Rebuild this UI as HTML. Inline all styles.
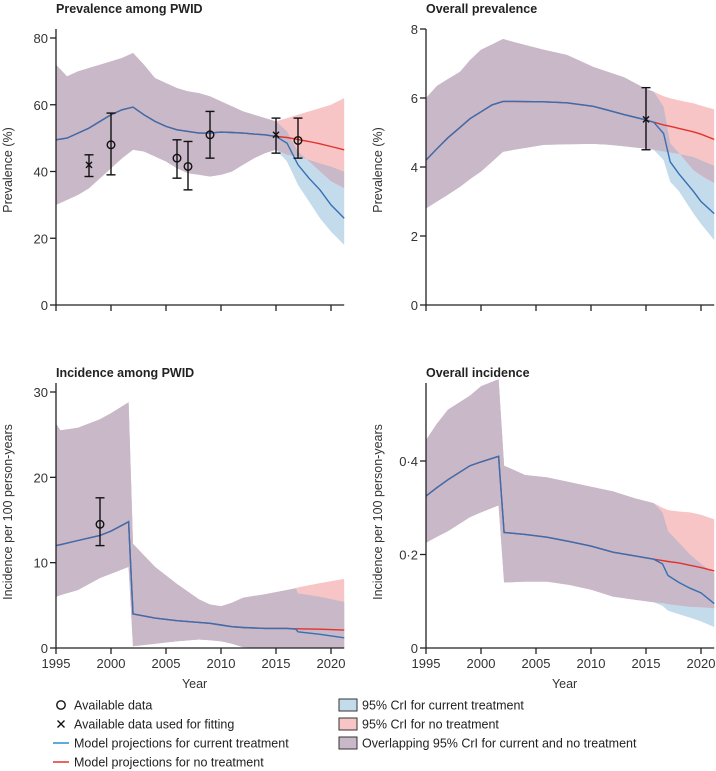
<!DOCTYPE html>
<html><head><meta charset="utf-8"><style>
html,body{margin:0;padding:0;background:#fff;}
svg{display:block;font-family:"Liberation Sans",sans-serif;}
.t{font-weight:bold;font-size:12.5px;fill:#222}
.tk{font-size:13px;fill:#333}
.at{font-size:12.5px;fill:#333}
.lg{font-size:12.5px;fill:#222}
</style></head><body>
<svg id="c" width="716" height="771" viewBox="0 0 716 771"></svg>
<script>
// Panel A: prevalence among PWID
const aYears=[1995,1996,1997,1998,1999,2000,2001,2002,2003,2004,2005,2006,2007,2008,2009,2010,2011,2012,2013,2014,2015,2016,2017,2018,2019,2020,2021.2];
const aMeanCur=[49.5,50,51.5,53,55,57,58.5,59.3,57,55,53.5,52.5,52,51.5,51.5,51.8,51.7,51.5,51.2,51,50.5,48.5,42,38,34.5,30,26];
const aMeanNo=[49.5,50,51.5,53,55,57,58.5,59.3,57,55,53.5,52.5,52,51.5,51.5,51.8,51.7,51.5,51.2,51,50.5,50.2,49.6,49,48.3,47.5,46.5];
const aUpCur=[72,68.5,70,71,72,73,74,75.5,72,68,66.5,65,64,63.5,62.5,61,59.5,58,57,56,55,52,46,43,40,37,35];
const aUpNo=[72,68.5,70,71,72,73,74,75.5,72,68,66.5,65,64,63.5,62.5,61,59.5,58,57,56,55,56,57,58,59,60,62];
const aLoCur=[30,31.5,33,35,38,41,44,46.5,46,44.5,43,41,39.5,39,38.5,39,40,42,44,45.5,46.5,43,36,31,26,22,18];
const aLoNo=[30,31.5,33,35,38,41,44,46.5,46,44.5,43,41,39.5,39,38.5,39,40,42,44,45.5,46.5,45,44.5,43.5,42.5,41.5,40];
const aPtYears=[1998,2000,2006,2007,2009,2015,2017];
const aPtVal=[42,48,44,41.5,51,51,49.3];
const aPtLo=[38.5,39,38,34.5,44,45.5,44];
const aPtHi=[45,57.5,49.5,49,58,56,56];
const aPtFit=[1,0,0,0,0,1,0];
const aTicks=[0,20,40,60,80];
// Panel B: overall prevalence
const bYears=[1995,1996,1997,1998.1,1999,2000,2001,2002,2003,2005.7,2007.8,2010.2,2011.5,2013,2014.8,2015.7,2016.6,2017.2,2018,2019.3,2020,2021.2];
const bMeanCur=[4.2,4.53,4.85,5.15,5.4,5.6,5.8,5.9,5.9,5.89,5.86,5.76,5.65,5.52,5.38,5.3,4.97,4.15,3.8,3.3,3.0,2.65];
const bMeanNo=[4.2,4.53,4.85,5.15,5.4,5.6,5.8,5.9,5.9,5.89,5.86,5.76,5.65,5.52,5.38,5.3,5.22,5.18,5.12,5.02,4.95,4.8];
const bUpCur=[6.0,6.35,6.55,6.76,7.1,7.4,7.55,7.71,7.62,7.4,7.25,6.9,6.76,6.6,6.3,6.18,5.75,4.69,4.4,3.91,3.75,3.53];
const bUpNo=[6.0,6.35,6.55,6.76,7.1,7.4,7.55,7.71,7.62,7.4,7.25,6.9,6.76,6.6,6.3,6.18,6.05,5.99,5.93,5.85,5.78,5.67];
const bLoCur=[2.8,3.0,3.2,3.43,3.65,3.87,4.15,4.44,4.5,4.64,4.66,4.67,4.65,4.6,4.54,4.5,4.2,3.57,3.3,2.66,2.35,1.88];
const bLoNo=[2.8,3.0,3.2,3.43,3.65,3.87,4.15,4.44,4.5,4.64,4.66,4.67,4.65,4.6,4.54,4.5,4.45,4.42,4.38,4.3,4.2,4.04];
const bPtYears=[2015];
const bPtVal=[5.38];
const bPtLo=[4.5];
const bPtHi=[6.3];
const bPtFit=[1];
const bTicks=[0,2,4,6,8];
// Panel C: incidence among PWID
const cYears=[1995,1995.4,1997,1999,2000,2001.6,2002,2004,2006,2008,2009,2010,2011,2012,2014,2016,2016.8,2017,2019,2021.2];
const cMeanCur=[12,12.1,12.6,13.2,13.7,14.8,4.0,3.5,3.2,3.0,2.9,2.7,2.5,2.4,2.3,2.3,2.2,1.9,1.6,1.2];
const cMeanNo=[12,12.1,12.6,13.2,13.7,14.8,4.0,3.5,3.2,3.0,2.9,2.7,2.5,2.4,2.3,2.3,2.25,2.25,2.2,2.1];
const cUpCur=[26.3,25.5,25.8,26.8,27.5,28.8,12.2,9.5,7.5,5.7,5.1,4.9,5.3,5.9,6.3,6.8,7.0,6.4,6.0,5.4];
const cUpNo=[26.3,25.5,25.8,26.8,27.5,28.8,12.2,9.5,7.5,5.7,5.1,4.9,5.3,5.9,6.3,6.8,7.0,7.1,7.6,8.1];
const cLoCur=[6.0,6.2,6.8,8.2,8.7,9.5,0.2,0.5,0.8,1.0,0.9,0.8,0.5,0.1,0,0,0,0,0,0];
const cLoNo=[6.0,6.2,6.8,8.2,8.7,9.5,0.2,0.5,0.8,1.0,0.9,0.8,0.5,0.1,0,0,0,0,0,0];
const cPtYears=[1999];
const cPtVal=[14.5];
const cPtLo=[12];
const cPtHi=[17.6];
const cPtFit=[0];
const cTicks=[0,10,20,30];
// Panel D: overall incidence
const dYears=[1995,1996,1997,1998,1999,2000,2001.6,2002.1,2004,2006,2008,2010,2012,2014,2015.7,2016.5,2017,2018,2019,2020,2021.2];
const dMeanCur=[.325,.343,.36,.375,.39,.398,.41,.247,.243,.237,.228,.218,.205,.197,.19,.18,.155,.14,.128,.118,.095];
const dMeanNo=[.325,.343,.36,.375,.39,.398,.41,.247,.243,.237,.228,.218,.205,.197,.19,.187,.185,.182,.177,.172,.165];
const dUpCur=[.445,.48,.51,.525,.54,.56,.575,.39,.37,.365,.355,.345,.335,.32,.31,.29,.25,.225,.2,.18,.16];
const dUpNo=[.445,.48,.51,.525,.54,.56,.575,.39,.37,.365,.355,.345,.335,.32,.31,.30,.295,.292,.29,.285,.275];
const dLoCur=[.225,.238,.25,.265,.28,.29,.305,.14,.142,.142,.135,.125,.11,.103,.098,.09,.08,.072,.065,.057,.045];
const dLoNo=[.225,.238,.25,.265,.28,.29,.305,.14,.142,.142,.135,.125,.11,.103,.098,.096,.094,.091,.088,.087,.085];
const dPtYears=[];
const dPtVal=[];
const dPtLo=[];
const dPtHi=[];
const dPtFit=[];
const dTicks=[0,0.2,0.4];
const dTickLabels=["0","0·2","0·4"];
const xTicks=[1995,2000,2005,2010,2015,2020];

const NS="http://www.w3.org/2000/svg";
const svg=document.getElementById('c');
function mk(tag,attrs,parent){const e=document.createElementNS(NS,tag);for(const k in attrs)e.setAttribute(k,attrs[k]);(parent||svg).appendChild(e);return e;}
function pathFrom(xs,ys,sx,sy){return xs.map((x,i)=>(i?'L':'M')+sx(x).toFixed(1)+','+sy(ys[i]).toFixed(1)).join('');}
function bandPath(xs,lo,hi,sx,sy){let d=pathFrom(xs,hi,sx,sy);for(let i=xs.length-1;i>=0;i--)d+='L'+sx(xs[i]).toFixed(1)+','+sy(lo[i]).toFixed(1);return d+'Z';}

function panel(o){
  const g=mk('g',{});
  
  
  const sx=v=>o.x0+(v-1995)*11;
  const sy=v=>o.yb-(v-0)/(o.ymax)*(o.yb-o.yt);
  const t=mk('text',{x:o.x0,y:o.ty,class:'t'},g);t.textContent=o.title;
  
  const ov=o.years.map((_,i)=>Math.min(o.upCur[i],o.upNo[i]));
  const ol=o.years.map((_,i)=>Math.max(o.loCur[i],o.loNo[i]));
  let e=mk('path',{d:bandPath(o.years,o.loNo,o.upNo,sx,sy),fill:'#f7c5c5'},g);
  
  e=mk('path',{d:bandPath(o.years,o.loCur,o.upCur,sx,sy),fill:'#c4dbeb'},g);
  
  e=mk('path',{d:bandPath(o.years,ol,ov,sx,sy),fill:'#c9b8c8'},g);
  
  e=mk('path',{d:pathFrom(o.years,o.meanNo,sx,sy),fill:'none',stroke:'#e3322c','stroke-width':1.4},g);
  
  e=mk('path',{d:pathFrom(o.years,o.meanCur,sx,sy),fill:'none',stroke:'#3470b3','stroke-width':1.4},g);
  
  // data points
  o.ptY.forEach((yr,i)=>{
    const x=sx(yr);
    const p=mk('g',{stroke:'#111','stroke-width':1.4,fill:'none'},g);
    
    mk('line',{x1:x,x2:x,y1:sy(o.ptLo[i]),y2:sy(o.ptHi[i])},p);
    mk('line',{x1:x-4.5,x2:x+4.5,y1:sy(o.ptLo[i]),y2:sy(o.ptLo[i])},p);
    mk('line',{x1:x-4.5,x2:x+4.5,y1:sy(o.ptHi[i]),y2:sy(o.ptHi[i])},p);
    const y=sy(o.ptV[i]);
    if(o.ptF[i]){mk('path',{d:`M${x-3},${y-3}L${x+3},${y+3}M${x-3},${y+3}L${x+3},${y-3}`},p);}
    else{mk('circle',{cx:x,cy:y,r:3.8,fill:'none'},p);}
  });
  // axes
  const ax=mk('g',{stroke:'#222','stroke-width':1.3},g);
  
  mk('line',{x1:o.x0,x2:o.x0,y1:o.yt,y2:o.yb},ax);
  mk('line',{x1:o.x0,x2:sx(2021.2),y1:o.yb,y2:o.yb},ax);
  o.yticks.forEach((v,i)=>{
    mk('line',{x1:o.x0-6,x2:o.x0,y1:sy(v),y2:sy(v)},ax);
    const tx=mk('text',{x:o.x0-8,y:sy(v)+5,class:'tk','text-anchor':'end'},g);
    tx.textContent=o.ylabels?o.ylabels[i]:String(v);
    
  });
  xTicks.forEach(v=>{
    mk('line',{x1:sx(v),x2:sx(v),y1:o.yb,y2:o.yb+6},ax);
    if(o.xlabels){const tx=mk('text',{x:sx(v),y:o.yb+20,class:'tk','text-anchor':'middle'},g);tx.textContent=v;
      }
  });
  if(o.xlabels){const tx=mk('text',{x:sx(2007.6),y:o.yb+40,class:'at','text-anchor':'middle'},g);tx.textContent='Year';
    }
  const yt=mk('text',{x:0,y:0,class:'at','text-anchor':'middle',transform:`translate(${o.ylx},${o.ylc}) rotate(-90)`},g);
  yt.textContent=o.ytitle;
}

panel({name:'panel-prevalence-pwid',title:'Prevalence among PWID',x0:56,yt:29,yb:305,ymax:80/(267/276),ty:13,
 years:aYears,meanCur:aMeanCur,meanNo:aMeanNo,upCur:aUpCur,upNo:aUpNo,loCur:aLoCur,loNo:aLoNo,
 ptY:aPtYears,ptV:aPtVal,ptLo:aPtLo,ptHi:aPtHi,ptF:aPtFit,yticks:aTicks,xlabels:false,ytitle:'Prevalence (%)',ylx:12,ylc:170});
panel({name:'panel-overall-prevalence',title:'Overall prevalence',x0:426,yt:29,yb:305,ymax:8,ty:13,
 years:bYears,meanCur:bMeanCur,meanNo:bMeanNo,upCur:bUpCur,upNo:bUpNo,loCur:bLoCur,loNo:bLoNo,
 ptY:bPtYears,ptV:bPtVal,ptLo:bPtLo,ptHi:bPtHi,ptF:bPtFit,yticks:bTicks,xlabels:false,ytitle:'Prevalence (%)',ylx:382,ylc:170});
panel({name:'panel-incidence-pwid',title:'Incidence among PWID',x0:56,yt:383,yb:648,ymax:30*265/256,ty:377,
 years:cYears,meanCur:cMeanCur,meanNo:cMeanNo,upCur:cUpCur,upNo:cUpNo,loCur:cLoCur,loNo:cLoNo,
 ptY:cPtYears,ptV:cPtVal,ptLo:cPtLo,ptHi:cPtHi,ptF:cPtFit,yticks:cTicks,xlabels:true,ytitle:'Incidence per 100 person-years',ylx:12,ylc:512});
panel({name:'panel-overall-incidence',title:'Overall incidence',x0:426,yt:383,yb:648,ymax:0.4*265/187,ty:377,
 years:dYears,meanCur:dMeanCur,meanNo:dMeanNo,upCur:dUpCur,upNo:dUpNo,loCur:dLoCur,loNo:dLoNo,
 ptY:dPtYears,ptV:dPtVal,ptLo:dPtLo,ptHi:dPtHi,ptF:dPtFit,yticks:dTicks,ylabels:dTickLabels,xlabels:true,ytitle:'Incidence per 100 person-years',ylx:382,ylc:512});
</script>
<svg width="0" height="0"></svg>
<script>
// legend
(function(){
  const lg=mk('g',{});
  
  const rows=[705,724,743,762];
  const lt=['Available data','Available data used for fitting','Model projections for current treatment','Model projections for no treatment'];
  lt.forEach((s,i)=>{const t=mk('text',{x:74,y:rows[i]+4.5,class:'lg'},lg);t.textContent=s;
    });
  mk('circle',{cx:61,cy:rows[0],r:4.2,fill:'none',stroke:'#111','stroke-width':1.4},lg);
  mk('path',{d:`M57.5,${rows[1]-3.5}L64.5,${rows[1]+3.5}M57.5,${rows[1]+3.5}L64.5,${rows[1]-3.5}`,stroke:'#111','stroke-width':1.4},lg);
  mk('line',{x1:53,x2:69,y1:rows[2],y2:rows[2],stroke:'#2a8fcf','stroke-width':1.5},lg);
  mk('line',{x1:53,x2:69,y1:rows[3],y2:rows[3],stroke:'#e3322c','stroke-width':1.5},lg);
  const rt=['95% CrI for current treatment','95% CrI for no treatment','Overlapping 95% CrI for current and no treatment'];
  const rc=['#c4dbeb','#f7c5c5','#c9b8c8'];
  rt.forEach((s,i)=>{
    mk('rect',{x:339,y:rows[i]-6,width:18,height:12,fill:rc[i],stroke:'#333','stroke-width':1},lg);
    const t=mk('text',{x:362,y:rows[i]+4.5,class:'lg'},lg);t.textContent=s;
    
  });
})();
</script>
</body></html>
